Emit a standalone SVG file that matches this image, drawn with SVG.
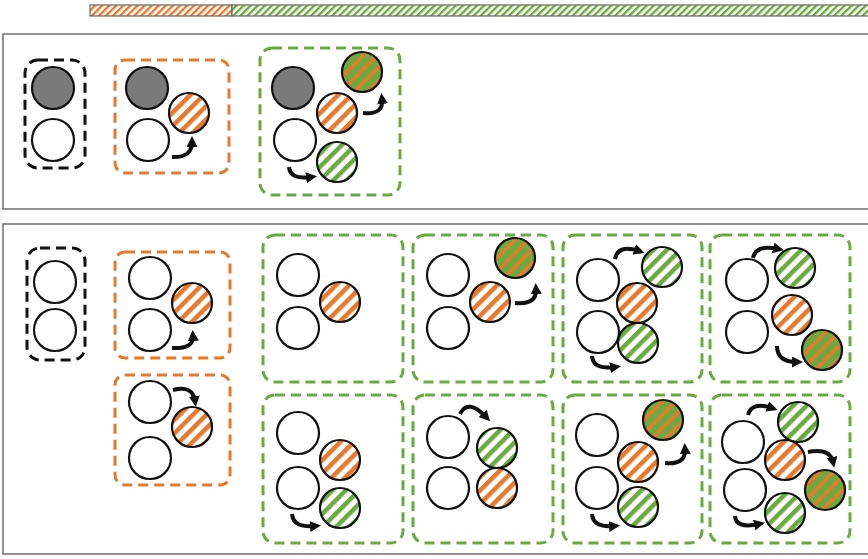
<svg xmlns="http://www.w3.org/2000/svg" width="868" height="559" viewBox="0 0 868 559">
<defs>
<pattern id="hO" width="9.5" height="9.5" patternUnits="userSpaceOnUse" patternTransform="rotate(45)">
<rect width="9.5" height="9.5" fill="#fff"/><rect width="4.5" height="9.5" fill="#e8782c"/>
</pattern>
<pattern id="hG" width="9.5" height="9.5" patternUnits="userSpaceOnUse" patternTransform="rotate(45)">
<rect width="9.5" height="9.5" fill="#fff"/><rect width="4.5" height="9.5" fill="#6aaa3e"/>
</pattern>
<pattern id="hD" width="9.5" height="9.5" patternUnits="userSpaceOnUse" patternTransform="rotate(45)">
<rect width="9.5" height="9.5" fill="#6aaa3e"/><rect width="3.5" height="9.5" fill="#e8782c"/>
</pattern>
<pattern id="bO" width="5" height="5" patternUnits="userSpaceOnUse" patternTransform="rotate(45)">
<rect width="5" height="5" fill="#fff"/><rect width="2.4" height="5" fill="#e8782c"/>
</pattern>
<pattern id="bG" width="5" height="5" patternUnits="userSpaceOnUse" patternTransform="rotate(45)">
<rect width="5" height="5" fill="#fff"/><rect width="2.4" height="5" fill="#6aaa3e"/>
</pattern>
<marker id="ah" markerWidth="11" markerHeight="11" refX="5" refY="5.5" orient="auto" markerUnits="userSpaceOnUse">
<path d="M0,0 L11,5.5 L0,11 Z" fill="#111"/>
</marker>
</defs>
<style>
.panel{fill:#fff;stroke:#777;stroke-width:1.6}
.bk{fill:none;stroke:#111;stroke-width:3;stroke-dasharray:10 6}
.or{fill:none;stroke:#e8782c;stroke-width:3;stroke-dasharray:10 6}
.gr{fill:none;stroke:#6aaa3e;stroke-width:3;stroke-dasharray:10 6}
circle{stroke:#111;stroke-width:2.2}
.w{fill:#fff}.g{fill:#7a7a7a}.o{fill:url(#hO)}.n{fill:url(#hG)}.d{fill:url(#hD)}
.ar{fill:none;stroke:#111;stroke-width:4;marker-end:url(#ah)}
</style>
<rect width="868" height="559" fill="#fff"/>
<g id="bar">
<rect x="90" y="5" width="142" height="11" fill="url(#bO)" stroke="#666" stroke-width="1.2"/>
<rect x="232" y="5" width="640" height="11" fill="url(#bG)" stroke="#666" stroke-width="1.2"/>
</g>
<rect class="panel" x="3" y="34" width="866" height="175"/>
<rect class="panel" x="3" y="224" width="866" height="330"/>
<g id="p1a"><rect class="bk" x="25" y="60" width="60" height="108" rx="13"/><circle class="g" cx="53" cy="88" r="21"/><circle class="w" cx="53" cy="140" r="21"/></g>
<g id="p1b"><rect class="or" x="115" y="60" width="114" height="113" rx="10"/><circle class="g" cx="147" cy="88" r="21"/><circle class="o" cx="189" cy="113" r="20"/><circle class="w" cx="148" cy="140" r="21"/></g>
<g id="p1c"><rect class="gr" x="260" y="48" width="140" height="147" rx="12"/><circle class="g" cx="293" cy="88" r="21"/><circle class="d" cx="362" cy="72" r="20"/><circle class="o" cx="337" cy="113" r="20"/><circle class="w" cx="295" cy="140" r="21"/><circle class="n" cx="337" cy="162" r="20"/></g>
<g id="p2a"><rect class="bk" x="27" y="248" width="58" height="112" rx="13"/><circle class="w" cx="55" cy="282" r="21"/><circle class="w" cx="55" cy="330" r="21"/></g>
<g id="p2b"><rect class="or" x="115" y="252" width="115" height="106" rx="10"/><circle class="w" cx="150" cy="278" r="21"/><circle class="o" cx="192" cy="303" r="20"/><circle class="w" cx="150" cy="330" r="21"/></g>
<g id="p2c"><rect class="or" x="115" y="375" width="115" height="110" rx="10"/><circle class="w" cx="150" cy="402" r="21"/><circle class="o" cx="192" cy="427" r="20"/><circle class="w" cx="150" cy="458" r="21"/></g>
<g id="r1b1"><rect class="gr" x="263" y="235" width="140" height="147" rx="12"/><circle class="w" cx="298" cy="275" r="21"/><circle class="o" cx="340" cy="302" r="20"/><circle class="w" cx="298" cy="328" r="21"/></g>
<g id="r1b2"><rect class="gr" x="413" y="235" width="140" height="147" rx="12"/><circle class="w" cx="448" cy="275" r="21"/><circle class="d" cx="515" cy="258" r="20"/><circle class="o" cx="490" cy="302" r="20"/><circle class="w" cx="448" cy="328" r="21"/></g>
<g id="r1b3"><rect class="gr" x="563" y="235" width="139" height="147" rx="12"/><circle class="w" cx="598" cy="280" r="21"/><circle class="n" cx="662" cy="267" r="20"/><circle class="o" cx="637" cy="303" r="20"/><circle class="w" cx="598" cy="332" r="21"/><circle class="n" cx="638" cy="343" r="20"/></g>
<g id="r1b4"><rect class="gr" x="710" y="235" width="140" height="147" rx="12"/><circle class="w" cx="747" cy="280" r="21"/><circle class="n" cx="795" cy="268" r="20"/><circle class="o" cx="792" cy="315" r="20"/><circle class="w" cx="747" cy="332" r="21"/><circle class="d" cx="822" cy="350" r="20"/></g>
<g id="r2b1"><rect class="gr" x="263" y="395" width="140" height="148" rx="12"/><circle class="w" cx="298" cy="433" r="21"/><circle class="o" cx="340" cy="460" r="20"/><circle class="w" cx="298" cy="488" r="21"/><circle class="n" cx="340" cy="508" r="20"/></g>
<g id="r2b2"><rect class="gr" x="413" y="395" width="140" height="148" rx="12"/><circle class="w" cx="448" cy="437" r="21"/><circle class="n" cx="497" cy="448" r="20"/><circle class="w" cx="448" cy="488" r="21"/><circle class="o" cx="497" cy="488" r="20"/></g>
<g id="r2b3"><rect class="gr" x="563" y="395" width="139" height="148" rx="12"/><circle class="w" cx="597" cy="435" r="21"/><circle class="d" cx="663" cy="420" r="20"/><circle class="o" cx="638" cy="462" r="20"/><circle class="w" cx="597" cy="488" r="21"/><circle class="n" cx="638" cy="507" r="20"/></g>
<g id="r2b4"><rect class="gr" x="710" y="395" width="140" height="148" rx="12"/><circle class="w" cx="743" cy="442" r="21"/><circle class="n" cx="798" cy="422" r="20"/><circle class="o" cx="785" cy="460" r="20"/><circle class="d" cx="825" cy="490" r="20"/><circle class="w" cx="745" cy="490" r="21"/><circle class="n" cx="785" cy="513" r="20"/></g>
<g id="connectors">
<path class="ar" d="M172,157 Q192,158 192,142"/>
<path class="ar" d="M363,113 Q384,115 382,99"/>
<path class="ar" d="M289,167 Q290,180 311,177"/>
<path class="ar" d="M172,348 Q194,349 193,336"/>
<path class="ar" d="M173,390 Q193,385 195,401"/>
<path class="ar" d="M515,303 Q537,305 536,289"/>
<path class="ar" d="M615,259 Q618,244 639,251"/>
<path class="ar" d="M592,356 Q593,370 615,367"/>
<path class="ar" d="M753,258 Q756,244 778,249"/>
<path class="ar" d="M777,346 Q777,362 797,362"/>
<path class="ar" d="M292,514 Q293,528 315,526"/>
<path class="ar" d="M460,414 Q468,398 486,417"/>
<path class="ar" d="M665,463 Q686,465 685,449"/>
<path class="ar" d="M592,514 Q593,528 614,526"/>
<path class="ar" d="M748,415 Q752,401 772,408"/>
<path class="ar" d="M808,452 Q830,448 833,462"/>
<path class="ar" d="M735,516 Q736,529 759,524"/>
</g>
</svg>
